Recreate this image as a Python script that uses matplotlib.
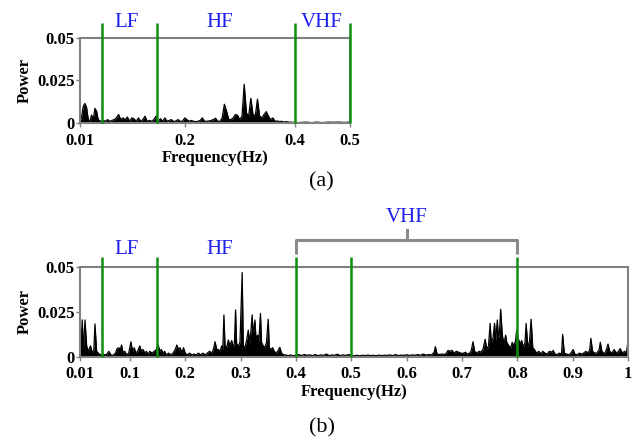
import matplotlib
matplotlib.use("Agg")
import matplotlib.pyplot as plt

# spectrum (a)
top_freq = [0.010, 0.013, 0.016, 0.019, 0.022, 0.025, 0.028, 0.031, 0.034, 0.037,
            0.040, 0.043, 0.047, 0.052, 0.056, 0.060, 0.064, 0.068, 0.072, 0.076,
            0.080, 0.084, 0.088, 0.092, 0.096, 0.100, 0.104, 0.108, 0.112, 0.116,
            0.120, 0.124, 0.128, 0.132, 0.136, 0.140, 0.144, 0.148, 0.152, 0.156,
            0.160, 0.164, 0.168, 0.172, 0.176, 0.180, 0.184, 0.188, 0.192, 0.196,
            0.200, 0.204, 0.208, 0.212, 0.216, 0.220, 0.224, 0.228, 0.232, 0.236,
            0.240, 0.244, 0.248, 0.252, 0.256, 0.260, 0.264, 0.268, 0.272, 0.276,
            0.280, 0.284, 0.288, 0.292, 0.296, 0.300, 0.304, 0.308, 0.312, 0.316,
            0.320, 0.324, 0.328, 0.332, 0.336, 0.340, 0.344, 0.348, 0.352, 0.356,
            0.360, 0.364, 0.368, 0.372, 0.376, 0.380, 0.385, 0.390, 0.395, 0.400,
            0.405, 0.420, 0.430, 0.440, 0.450, 0.460, 0.470, 0.480, 0.490, 0.500]
top_power = [0.0010, 0.0040, 0.0100, 0.0115, 0.0090, 0.0020, 0.0010, 0.0047, 0.0020, 0.0086,
             0.0070, 0.0020, 0.0010, 0.0015, 0.0010, 0.0020, 0.0010, 0.0015, 0.0020, 0.0030,
             0.0050, 0.0020, 0.0030, 0.0020, 0.0035, 0.0010, 0.0030, 0.0025, 0.0010, 0.0030,
             0.0010, 0.0020, 0.0040, 0.0010, 0.0015, 0.0010, 0.0020, 0.0040, 0.0010, 0.0025,
             0.0010, 0.0030, 0.0010, 0.0015, 0.0020, 0.0008, 0.0012, 0.0020, 0.0010, 0.0010,
             0.0030, 0.0020, 0.0010, 0.0015, 0.0010, 0.0008, 0.0010, 0.0015, 0.0030, 0.0010,
             0.0010, 0.0012, 0.0015, 0.0020, 0.0028, 0.0010, 0.0010, 0.0030, 0.0110, 0.0070,
             0.0020, 0.0020, 0.0030, 0.0050, 0.0045, 0.0020, 0.0040, 0.0228, 0.0060, 0.0040,
             0.0145, 0.0050, 0.0040, 0.0140, 0.0040, 0.0030, 0.0050, 0.0067, 0.0040, 0.0020,
             0.0030, 0.0010, 0.0012, 0.0008, 0.0010, 0.0006, 0.0008, 0.0005, 0.0004, 0.0003,
             0.0002, 0.0005, 0.0002, 0.0005, 0.0002, 0.0005, 0.0004, 0.0005, 0.0003, 0.0006]

# spectrum (b)
bot_freq = [0.010, 0.012, 0.014, 0.016, 0.019, 0.022, 0.025, 0.029, 0.032, 0.035,
            0.037, 0.040, 0.043, 0.047, 0.051, 0.055, 0.059, 0.062, 0.066, 0.070,
            0.074, 0.077, 0.080, 0.083, 0.085, 0.088, 0.091, 0.094, 0.098, 0.102,
            0.105, 0.108, 0.111, 0.114, 0.118, 0.121, 0.124, 0.127, 0.130, 0.133,
            0.136, 0.140, 0.144, 0.148, 0.151, 0.154, 0.157, 0.160, 0.163, 0.166,
            0.170, 0.174, 0.178, 0.182, 0.185, 0.188, 0.191, 0.194, 0.197, 0.200,
            0.204, 0.208, 0.212, 0.216, 0.220, 0.224, 0.228, 0.232, 0.236, 0.240,
            0.244, 0.248, 0.251, 0.254, 0.257, 0.260, 0.263, 0.266, 0.268, 0.270,
            0.272, 0.275, 0.278, 0.281, 0.284, 0.287, 0.289, 0.291, 0.293, 0.296,
            0.299, 0.303, 0.305, 0.308, 0.311, 0.314, 0.317, 0.321, 0.323, 0.326,
            0.328, 0.331, 0.333, 0.336, 0.338, 0.341, 0.344, 0.347, 0.350, 0.352,
            0.355, 0.358, 0.361, 0.364, 0.367, 0.371, 0.374, 0.378, 0.382, 0.386,
            0.390, 0.395, 0.400, 0.405, 0.410, 0.415, 0.420, 0.425, 0.430, 0.435,
            0.440, 0.445, 0.450, 0.455, 0.460, 0.465, 0.470, 0.475, 0.480, 0.485,
            0.490, 0.495, 0.500, 0.505, 0.510, 0.515, 0.520, 0.525, 0.530, 0.535,
            0.540, 0.545, 0.550, 0.555, 0.560, 0.565, 0.570, 0.575, 0.580, 0.585,
            0.590, 0.595, 0.600, 0.605, 0.610, 0.615, 0.620, 0.625, 0.630, 0.635,
            0.640, 0.645, 0.650, 0.652, 0.655, 0.660, 0.665, 0.670, 0.675, 0.678,
            0.682, 0.686, 0.690, 0.694, 0.698, 0.702, 0.706, 0.710, 0.714, 0.717,
            0.720, 0.723, 0.727, 0.731, 0.734, 0.738, 0.742, 0.745, 0.748, 0.751,
            0.753, 0.756, 0.759, 0.761, 0.764, 0.766, 0.768, 0.770, 0.773, 0.776,
            0.779, 0.781, 0.785, 0.788, 0.791, 0.794, 0.797, 0.799, 0.802, 0.805,
            0.808, 0.811, 0.814, 0.816, 0.819, 0.822, 0.825, 0.828, 0.831, 0.835,
            0.839, 0.843, 0.846, 0.850, 0.854, 0.858, 0.862, 0.865, 0.868, 0.872,
            0.876, 0.880, 0.882, 0.885, 0.889, 0.893, 0.897, 0.901, 0.904, 0.908,
            0.912, 0.916, 0.920, 0.924, 0.928, 0.931, 0.933, 0.936, 0.940, 0.944,
            0.948, 0.950, 0.953, 0.957, 0.960, 0.964, 0.967, 0.971, 0.975, 0.979,
            0.983, 0.986, 0.990, 0.994, 0.997, 1.000]
bot_power = [0.0213, 0.0060, 0.0205, 0.0040, 0.0204, 0.0060, 0.0030, 0.0060, 0.0020, 0.0040,
             0.0182, 0.0030, 0.0020, 0.0010, 0.0015, 0.0010, 0.0015, 0.0030, 0.0010, 0.0008,
             0.0020, 0.0045, 0.0050, 0.0040, 0.0065, 0.0020, 0.0030, 0.0010, 0.0020, 0.0083,
             0.0030, 0.0050, 0.0020, 0.0030, 0.0060, 0.0030, 0.0040, 0.0020, 0.0030, 0.0010,
             0.0030, 0.0020, 0.0030, 0.0040, 0.0070, 0.0030, 0.0040, 0.0020, 0.0030, 0.0010,
             0.0020, 0.0010, 0.0020, 0.0040, 0.0065, 0.0040, 0.0050, 0.0020, 0.0050, 0.0020,
             0.0010, 0.0020, 0.0010, 0.0015, 0.0010, 0.0020, 0.0010, 0.0020, 0.0010, 0.0020,
             0.0030, 0.0020, 0.0040, 0.0083, 0.0040, 0.0040, 0.0030, 0.0060, 0.0040, 0.0232,
             0.0060, 0.0050, 0.0093, 0.0060, 0.0090, 0.0050, 0.0080, 0.0260, 0.0070, 0.0060,
             0.0080, 0.0467, 0.0060, 0.0050, 0.0090, 0.0148, 0.0070, 0.0232, 0.0120, 0.0204,
             0.0100, 0.0120, 0.0080, 0.0240, 0.0080, 0.0060, 0.0050, 0.0080, 0.0208, 0.0050,
             0.0040, 0.0050, 0.0030, 0.0020, 0.0030, 0.0052, 0.0020, 0.0010, 0.0010, 0.0005,
             0.0010, 0.0005, 0.0008, 0.0012, 0.0006, 0.0012, 0.0008, 0.0010, 0.0006, 0.0012,
             0.0006, 0.0010, 0.0007, 0.0015, 0.0006, 0.0010, 0.0008, 0.0014, 0.0006, 0.0010,
             0.0007, 0.0012, 0.0008, 0.0005, 0.0008, 0.0005, 0.0008, 0.0006, 0.0009, 0.0006,
             0.0008, 0.0005, 0.0009, 0.0006, 0.0008, 0.0007, 0.0010, 0.0006, 0.0012, 0.0006,
             0.0009, 0.0007, 0.0011, 0.0007, 0.0010, 0.0008, 0.0012, 0.0008, 0.0015, 0.0009,
             0.0012, 0.0010, 0.0025, 0.0056, 0.0015, 0.0012, 0.0015, 0.0012, 0.0035, 0.0030,
             0.0035, 0.0020, 0.0030, 0.0025, 0.0020, 0.0018, 0.0025, 0.0015, 0.0020, 0.0035,
             0.0083, 0.0030, 0.0020, 0.0030, 0.0025, 0.0040, 0.0097, 0.0040, 0.0060, 0.0185,
             0.0080, 0.0100, 0.0185, 0.0090, 0.0204, 0.0100, 0.0140, 0.0263, 0.0120, 0.0070,
             0.0120, 0.0080, 0.0060, 0.0050, 0.0080, 0.0060, 0.0090, 0.0148, 0.0100, 0.0070,
             0.0090, 0.0050, 0.0080, 0.0185, 0.0060, 0.0080, 0.0208, 0.0050, 0.0040, 0.0020,
             0.0030, 0.0015, 0.0030, 0.0020, 0.0015, 0.0030, 0.0025, 0.0035, 0.0015, 0.0012,
             0.0020, 0.0015, 0.0124, 0.0020, 0.0015, 0.0010, 0.0020, 0.0040, 0.0015, 0.0010,
             0.0020, 0.0015, 0.0020, 0.0030, 0.0020, 0.0040, 0.0102, 0.0030, 0.0020, 0.0020,
             0.0040, 0.0080, 0.0030, 0.0015, 0.0030, 0.0070, 0.0030, 0.0020, 0.0040, 0.0020,
             0.0030, 0.0045, 0.0020, 0.0030, 0.0020, 0.0080]

top_bands = [0.05, 0.15, 0.4, 0.5]
bot_bands = [0.05, 0.15, 0.4, 0.5, 0.8]
top_xticks = [0.01, 0.2, 0.4, 0.5]
top_xlabels = ["0.01", "0.2", "0.4", "0.5"]
bot_xticks = [0.01, 0.1, 0.2, 0.3, 0.4, 0.5, 0.6, 0.7, 0.8, 0.9, 1.0]
bot_xlabels = ["0.01", "0.1", "0.2", "0.3", "0.4", "0.5", "0.6", "0.7", "0.8", "0.9", "1"]
yticks = [0, 0.025, 0.05]
ylabels = ["0", "0.025", "0.05"]

plt.rcParams['font.family'] = ['Liberation Serif', 'DejaVu Serif']
GREY = '#808080'
GREEN = '#0f8f0f'
BLUE = '#1f1fee'

fig = plt.figure(figsize=(6.32, 4.44), dpi=100)
ax1 = fig.add_axes([0.1266, 0.723, 0.4272, 0.1914])
ax2 = fig.add_axes([0.1266, 0.1966, 0.867, 0.2027])


def style_axes(ax, freq, power, xlim, xticks, xlabels):
    ax.fill_between(freq, power, 0, color='black', lw=0)
    ax.plot(freq, power, color='black', lw=0.9)
    ax.set_xlim(*xlim)
    ax.set_ylim(0, 0.05)
    ax.set_xticks(xticks)
    ax.set_xticklabels(xlabels)
    ax.set_yticks(yticks)
    ax.set_yticklabels(ylabels)
    for sp in ax.spines.values():
        sp.set_color(GREY)
        sp.set_linewidth(1.5)
    ax.tick_params(direction='out', length=3, width=1, color=GREY, labelsize=12)
    ax.tick_params(axis='x', pad=4)
    ax.tick_params(axis='y', pad=1)
    for lab in ax.get_xticklabels() + ax.get_yticklabels():
        lab.set_fontweight('bold')
    ax.set_xlabel('Frequency(Hz)', fontsize=12, fontweight='bold', labelpad=1)
    ax.set_ylabel('Power', fontsize=12, fontweight='bold', labelpad=3)


style_axes(ax1, top_freq, top_power, (0.01, 0.5), top_xticks, top_xlabels)
style_axes(ax2, bot_freq, bot_power, (0.01, 1.0), bot_xticks, bot_xlabels)

# band boundaries
ax1.vlines(top_bands, 0, 0.0588, color=GREEN, lw=1.8, clip_on=False, zorder=5)
ax2.vlines(bot_bands, 0, 0.0555, color=GREEN, lw=1.8, clip_on=False, zorder=5)

ax1.text(0.095, 0.0594, 'LF', color=BLUE, fontsize=15, ha='center', va='center')
ax1.text(0.264, 0.0594, 'HF', color=BLUE, fontsize=15, ha='center', va='center')
ax1.text(0.449, 0.0594, 'VHF', color=BLUE, fontsize=15, ha='center', va='center')

ax2.text(0.095, 0.0593, 'LF', color=BLUE, fontsize=15, ha='center', va='center')
ax2.text(0.263, 0.0593, 'HF', color=BLUE, fontsize=15, ha='center', va='center')
ax2.text(0.6, 0.0775, 'VHF', color=BLUE, fontsize=15, ha='center', va='center')

# bracket over the VHF range in (b)
lo, hi = bot_bands[2], bot_bands[4]
mid = (lo + hi) / 2
ax2.plot([lo, lo, mid, mid, mid, hi, hi], [0.0578, 0.0648, 0.0648, 0.0705, 0.0648, 0.0648, 0.0578],
         color='#8a8a8a', lw=2.2, clip_on=False, solid_joinstyle='round', solid_capstyle='round')

fig.text(0.509, 0.59, '(a)', fontsize=16, ha='center', va='center')
fig.text(0.509, 0.036, '(b)', fontsize=16, ha='center', va='center')

fig.savefig('out.png', dpi=100)
